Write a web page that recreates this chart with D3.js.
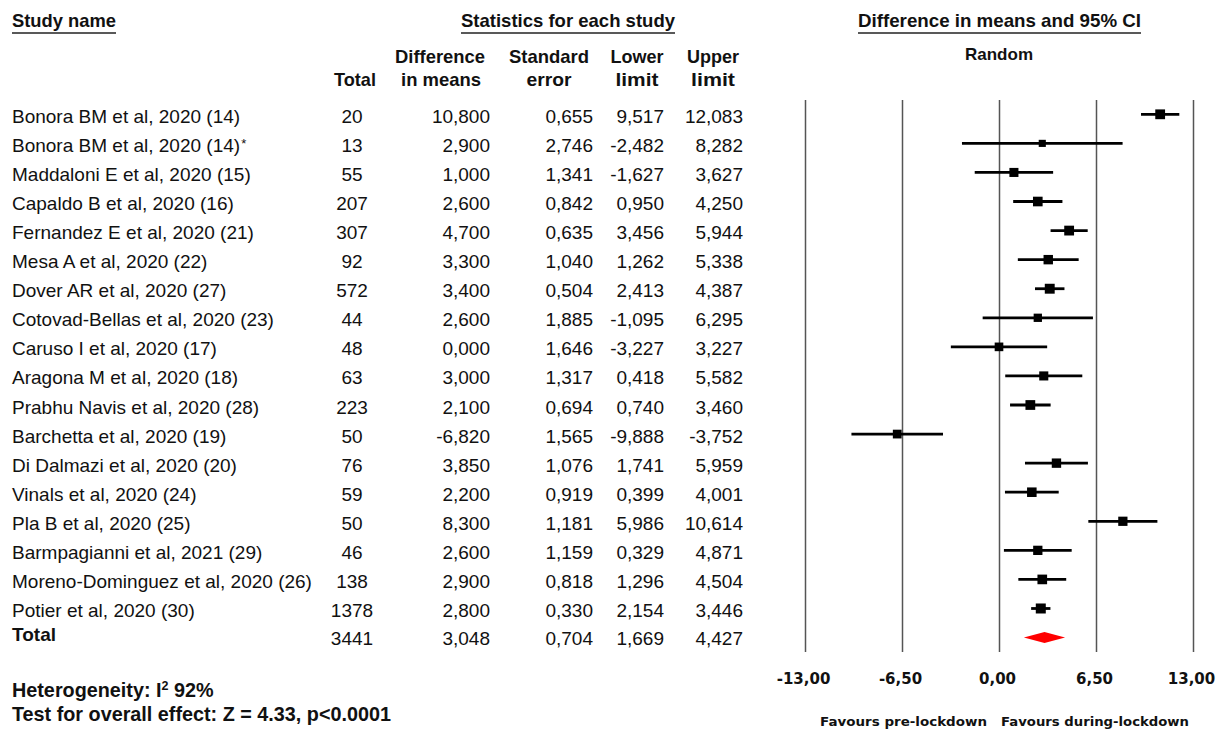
<!DOCTYPE html>
<html>
<head>
<meta charset="utf-8">
<script src="https://cdn.jsdelivr.net/npm/d3@7"></script>
<style>
  html, body { margin: 0; padding: 0; background: #fff; }
  svg text { fill: #111; }
</style>
</head>
<body>
<svg id="chart" width="1223" height="730"></svg>
<script>
// Study-level data: random-effects meta-analysis of difference in means
const studies = [
  "Bonora BM et al, 2020 (14)",
  "Bonora BM et al, 2020 (14)*",
  "Maddaloni E et al, 2020 (15)",
  "Capaldo B et al, 2020 (16)",
  "Fernandez E et al, 2020 (21)",
  "Mesa A et al, 2020 (22)",
  "Dover AR et al, 2020 (27)",
  "Cotovad-Bellas et al, 2020 (23)",
  "Caruso I et al, 2020 (17)",
  "Aragona M et al, 2020 (18)",
  "Prabhu Navis et al, 2020 (28)",
  "Barchetta et al, 2020 (19)",
  "Di Dalmazi et al, 2020 (20)",
  "Vinals et al, 2020 (24)",
  "Pla B et al, 2020 (25)",
  "Barmpagianni et al, 2021 (29)",
  "Moreno-Dominguez et al, 2020 (26)",
  "Potier et al, 2020 (30)"
];
const totals = [20, 13, 55, 207, 307, 92, 572, 44, 48, 63, 223, 50, 76, 59, 50, 46, 138, 1378];
const diffs  = [10.8, 2.9, 1.0, 2.6, 4.7, 3.3, 3.4, 2.6, 0.0, 3.0, 2.1, -6.82, 3.85, 2.2, 8.3, 2.6, 2.9, 2.8];
const ses    = [0.655, 2.746, 1.341, 0.842, 0.635, 1.040, 0.504, 1.885, 1.646, 1.317, 0.694, 1.565, 1.076, 0.919, 1.181, 1.159, 0.818, 0.330];
const lowers = [9.517, -2.482, -1.627, 0.950, 3.456, 1.262, 2.413, -1.095, -3.227, 0.418, 0.740, -9.888, 1.741, 0.399, 5.986, 0.329, 1.296, 2.154];
const uppers = [12.083, 8.282, 3.627, 4.250, 5.944, 5.338, 4.387, 6.295, 3.227, 5.582, 3.460, -3.752, 5.959, 4.001, 10.614, 4.871, 4.504, 3.446];

// Pooled (random effects) result
const pooledLabel = "Total";
const pooledTotal = 3441;
const pooledDiff = 3.048;
const pooledSe = 0.704;
const pooledLower = 1.669;
const pooledUpper = 4.427;

// Axis ticks and footer texts
const tickValues = [-13, -6.5, 0, 6.5, 13];
const favoursLeft = "Favours pre-lockdown";
const favoursRight = "Favours during-lockdown";
const heterogeneityText = ["Heterogeneity: I", "2", " 92%"];
const overallText = "Test for overall effect: Z = 4.33, p<0.0001";

const svg = d3.select("#chart");
const sansFont = "'Liberation Sans', Arial, Helvetica, sans-serif";
const wideBold = "'DejaVu Sans', Verdana, sans-serif";

const locale = d3.formatLocale({ decimal: ",", thousands: ".", grouping: [3], currency: ["", ""], minus: "-" });
const f3 = locale.format(".3f");
const f2 = locale.format(".2f");

// Layout
const rowTop = 114.3, rowStep = 29.07;
const rowY = i => rowTop + i * rowStep;
const x = d3.scaleLinear().domain([-13, 13]).range([805, 1193]);
const plotTop = 100, plotBottom = 652;

// DerSimonian-Laird tau^2 for random-effects weights (marker size)
const wFixed = ses.map(s => 1 / (s * s));
const sumW = d3.sum(wFixed);
const meanFixed = d3.sum(diffs.map((d, i) => d * wFixed[i])) / sumW;
const Q = d3.sum(diffs.map((d, i) => wFixed[i] * (d - meanFixed) ** 2));
const C = sumW - d3.sum(wFixed.map(w => w * w)) / sumW;
const tau2 = Math.max(0, (Q - (diffs.length - 1)) / C);
const wRandom = ses.map(s => 1 / (s * s + tau2));
const size = d3.scaleSqrt().domain([0, d3.max(wRandom)]).range([0, 10]);

// ---- Headers ----
const hdr = svg.append("g").attr("font-family", sansFont).attr("font-weight", "bold").attr("font-size", 19);
function headerText(txt, xPos, yPos, anchor, len) {
  const t = hdr.append("text").attr("x", xPos).attr("y", yPos).attr("text-anchor", anchor).text(txt);
  if (len) t.attr("textLength", len).attr("lengthAdjust", "spacingAndGlyphs");
  return t;
}
function underline(x0, x1, yPos) {
  svg.append("line").attr("x1", x0).attr("x2", x1).attr("y1", yPos).attr("y2", yPos)
    .attr("stroke", "#222").attr("stroke-width", 1.6);
}
headerText("Study name", 12, 27, "start", 104);
underline(12, 116, 33);
headerText("Statistics for each study", 461, 27, "start", 214);
underline(461, 675, 33);
headerText("Difference in means and 95% CI", 858, 27, "start", 283);
underline(858, 1141, 33);

headerText("Total", 355, 86, "middle", 42);
headerText("Difference", 440, 63, "middle", 90);
headerText("in means", 441, 86, "middle", 80);
headerText("Standard", 549, 63, "middle", 80);
headerText("error", 549, 86, "middle", 45);
headerText("Lower", 637, 63, "middle", 53);
headerText("limit", 637, 86, "middle", 43);
headerText("Upper", 713, 63, "middle", 52);
headerText("limit", 713, 86, "middle", 44);

svg.append("text").attr("x", 999).attr("y", 60).attr("text-anchor", "middle")
  .attr("font-family", sansFont).attr("font-weight", "bold").attr("font-size", 17).text("Random");

// ---- Table rows ----
const table = svg.append("g").attr("font-family", sansFont).attr("font-size", 19);
const rows = table.selectAll("g.row").data(studies).join("g").attr("class", "row")
  .attr("transform", (d, i) => `translate(0,${rowY(i) + 8.5})`);
// study name; a trailing asterisk is set as a small raised mark
rows.append("text").attr("x", 12).each(function (d) {
  const t = d3.select(this);
  if (d.endsWith("*")) {
    t.append("tspan").text(d.slice(0, -1));
    t.append("tspan").attr("font-size", 13).attr("dx", 1).attr("dy", -4).text("*");
  } else {
    t.text(d);
  }
});
rows.append("text").attr("x", 352).attr("text-anchor", "middle").text((d, i) => totals[i]);
rows.append("text").attr("x", 490).attr("text-anchor", "end").text((d, i) => f3(diffs[i]));
rows.append("text").attr("x", 593).attr("text-anchor", "end").text((d, i) => f3(ses[i]));
rows.append("text").attr("x", 664).attr("text-anchor", "end").text((d, i) => f3(lowers[i]));
rows.append("text").attr("x", 743).attr("text-anchor", "end").text((d, i) => f3(uppers[i]));

// Pooled row
const nRows = studies.length;
const pY = rowY(nRows);
table.append("text").attr("x", 12).attr("y", pY + 3).attr("font-weight", "bold").text(pooledLabel);
const pooledCells = [
  [352, "middle", pooledTotal],
  [490, "end", f3(pooledDiff)],
  [593, "end", f3(pooledSe)],
  [664, "end", f3(pooledLower)],
  [743, "end", f3(pooledUpper)]
];
table.selectAll("text.pooled").data(pooledCells).join("text").attr("class", "pooled")
  .attr("x", d => d[0]).attr("y", pY + 7).attr("text-anchor", d => d[1]).text(d => d[2]);

// ---- Forest plot ----
const axis = d3.axisBottom(x)
  .tickValues(tickValues)
  .tickSizeInner(-(plotBottom - plotTop))
  .tickSizeOuter(0)
  .tickPadding(21)
  .tickFormat(f2);
const gAxis = svg.append("g").attr("transform", `translate(0,${plotBottom})`).call(axis);
gAxis.select(".domain").remove();
gAxis.selectAll(".tick line").attr("stroke", "#555").attr("stroke-width", 1.5);
gAxis.selectAll(".tick text").attr("font-family", wideBold).attr("font-weight", "bold")
  .attr("font-size", 15).attr("fill", "#111").attr("dx", -2);

const marks = svg.append("g");
marks.selectAll("line.ci").data(studies).join("line").attr("class", "ci")
  .attr("x1", (d, i) => x(lowers[i])).attr("x2", (d, i) => x(uppers[i]))
  .attr("y1", (d, i) => rowY(i)).attr("y2", (d, i) => rowY(i))
  .attr("stroke", "#000").attr("stroke-width", 2.8);
marks.selectAll("rect.pt").data(studies).join("rect").attr("class", "pt")
  .attr("x", (d, i) => x(diffs[i]) - size(wRandom[i]) / 2)
  .attr("y", (d, i) => rowY(i) - size(wRandom[i]) / 2)
  .attr("width", (d, i) => size(wRandom[i]))
  .attr("height", (d, i) => size(wRandom[i]))
  .attr("fill", "#000");

// Pooled diamond
const dh = 5.5;
marks.append("path")
  .attr("d", `M${x(pooledLower)},${pY} L${x(pooledDiff)},${pY - dh} L${x(pooledUpper)},${pY} L${x(pooledDiff)},${pY + dh} Z`)
  .attr("fill", "#ff0000");

// Favours labels
svg.append("text").attr("x", 987).attr("y", 726).attr("text-anchor", "end")
  .attr("font-family", wideBold).attr("font-weight", "bold").attr("font-size", 13)
  .attr("textLength", 167).attr("lengthAdjust", "spacingAndGlyphs").text(favoursLeft);
svg.append("text").attr("x", 1001).attr("y", 726).attr("text-anchor", "start")
  .attr("font-family", wideBold).attr("font-weight", "bold").attr("font-size", 13)
  .attr("textLength", 188).attr("lengthAdjust", "spacingAndGlyphs").text(favoursRight);

// Footer statistics
const foot = svg.append("g").attr("font-family", sansFont).attr("font-weight", "bold").attr("font-size", 19.8);
const het = foot.append("text").attr("x", 12).attr("y", 697);
het.append("tspan").text(heterogeneityText[0]);
het.append("tspan").attr("font-size", 12.5).attr("dy", -7).text(heterogeneityText[1]);
het.append("tspan").attr("dy", 7).text(heterogeneityText[2]);
foot.append("text").attr("x", 12).attr("y", 721).text(overallText);
</script>
</body>
</html>
